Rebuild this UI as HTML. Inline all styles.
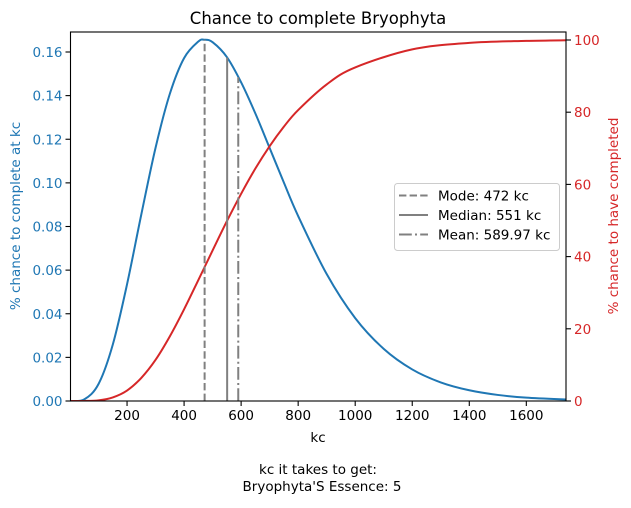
<!DOCTYPE html>
<html><head><meta charset="utf-8">
<style>
body{margin:0;background:#fff;}
svg{font-family:"DejaVu Sans","Liberation Sans",sans-serif;}
</style></head>
<body>
<svg id="chart" width="631" height="503" xmlns="http://www.w3.org/2000/svg"></svg>
<script>
const xs = [0,50,100,150,200,250,300,350,400,450,472,500,550,600,650,700,750,800,900,1000,1100,1200,1300,1400,1500,1600,1750];
const pdfVals = [0,0.000745,0.0078,0.02586,0.0535,0.0855,0.1161,0.1408,0.1572,0.1648,0.1656,0.1645,0.1577,0.1461,0.1318,0.116,0.1001,0.0848,0.0582,0.038,0.0239,0.01447,0.00853,0.00492,0.00278,0.00154,0.00062];
const cdfXs = [0,50,100,150,200,250,300,350,400,450,500,550,600,650,700,750,800,900,1000,1200,1400,1600,1750];
const cdfVals = [0,0.01,0.18,1.0,2.9,6.4,11.4,17.9,25.4,33.5,41.7,49.8,57.4,64.4,70.6,76.0,80.6,87.7,92.4,97.4,99.2,99.75,99.93];
const xTicks = [200,400,600,800,1000,1200,1400,1600];
const yLeftTicks = [0,0.02,0.04,0.06,0.08,0.10,0.12,0.14,0.16];
const yRightTicks = [0,20,40,60,80,100];
const markers = [472,551,589.97];

const L=70.5,R=566,T=32,B=401;
const X=v=>70+v*0.2852;
const YL=v=>401-v*(349/0.16);
const YR=v=>401-v*3.61;
const svg=document.getElementById('chart');
const NS='http://www.w3.org/2000/svg';
function el(tag,attrs,parent){const e=document.createElementNS(NS,tag);for(const k in attrs)e.setAttribute(k,attrs[k]);(parent||svg).appendChild(e);return e;}
function txt(s,attrs){const t=el('text',attrs);t.textContent=s;return t;}
function smooth(pts){let d='M'+pts[0][0].toFixed(2)+','+pts[0][1].toFixed(2);
for(let i=0;i<pts.length-1;i++){const p0=pts[i-1]||pts[i],p1=pts[i],p2=pts[i+1],p3=pts[i+2]||p2;
const c1=[p1[0]+(p2[0]-p0[0])/6,p1[1]+(p2[1]-p0[1])/6],c2=[p2[0]-(p3[0]-p1[0])/6,p2[1]-(p3[1]-p1[1])/6];
d+='C'+c1.map(v=>v.toFixed(2)).join(',')+' '+c2.map(v=>v.toFixed(2)).join(',')+' '+p2[0].toFixed(2)+','+p2[1].toFixed(2);}
return d;}

const defs=el('defs',{});const cp=el('clipPath',{id:'c'},defs);el('rect',{x:L,y:T,width:R-L,height:B-T},cp);
const g=el('g',{'clip-path':'url(#c)'});

let p=el('path',{d:smooth(xs.map((x,i)=>[X(x),YL(pdfVals[i])])),fill:'none',stroke:'#1f77b4','stroke-width':2,'stroke-linejoin':'round'},g);


p=el('path',{d:smooth(cdfXs.map((x,i)=>[X(x),YR(cdfVals[i])])),fill:'none',stroke:'#d62728','stroke-width':2,'stroke-linejoin':'round'},g);



function pdfAt(x){for(let i=1;i<xs.length;i++){if(x<=xs[i]){const f=(x-xs[i-1])/(xs[i]-xs[i-1]);return pdfVals[i-1]+f*(pdfVals[i]-pdfVals[i-1]);}}return 0;}
const dashes=['7.4,3.2','none','12.8,3.2,2,3.2'];
const mnames=['mode-line','median-line','mean-line'];
markers.forEach((m,i)=>{const l=el('line',{x1:X(m),x2:X(m),y1:B,y2:YL(pdfAt(m)),stroke:'#808080','stroke-width':2,'stroke-dasharray':dashes[i]},g);

});

el('rect',{x:L,y:T,width:R-L,height:B-T,fill:'none',stroke:'#000','stroke-width':1.1});

xTicks.forEach(v=>{el('line',{x1:X(v),x2:X(v),y1:B,y2:B+5,stroke:'#000','stroke-width':1.1});
const t=txt(v,{x:X(v),y:B+19,'font-size':13.5,'text-anchor':'middle'});});
yLeftTicks.forEach(v=>{el('line',{x1:L,x2:L-5,y1:YL(v),y2:YL(v),stroke:'#000','stroke-width':1.1});
const t=txt(v.toFixed(2),{x:L-8,y:YL(v)+5,'font-size':13.5,'text-anchor':'end',fill:'#1f77b4'});});
yRightTicks.forEach(v=>{el('line',{x1:R,x2:R+5,y1:YR(v),y2:YR(v),stroke:'#000','stroke-width':1.1});
const t=txt(v,{x:R+8,y:YR(v)+5,'font-size':13.5,fill:'#d62728'});});

let t=txt('Chance to complete Bryophyta',{x:318,y:24,'font-size':16.5,'text-anchor':'middle'});
t=txt('kc',{x:318,y:442,'font-size':13.5,'text-anchor':'middle'});
t=txt('kc it takes to get:',{x:318,y:474,'font-size':13.5,'text-anchor':'middle'});
t=txt("Bryophyta'S Essence: 5",{x:322,y:491,'font-size':13.5,'text-anchor':'middle'});
t=txt('% chance to complete at kc',{x:0,y:0,'font-size':13.5,'text-anchor':'middle',fill:'#1f77b4',transform:'translate(20,216) rotate(-90)'});
t=txt('% chance to have completed',{x:0,y:0,'font-size':13.5,'text-anchor':'middle',fill:'#d62728',transform:'translate(618,216) rotate(-90)'});

const lg=el('g',{});
el('rect',{x:394.5,y:183.5,width:165,height:67,rx:3,fill:'#fff','fill-opacity':0.8,stroke:'#ccc','stroke-width':1},lg);
const labels=['Mode: 472 kc','Median: 551 kc','Mean: 589.97 kc'];
labels.forEach((s,i)=>{const y=195.5+i*19.5;
el('line',{x1:399,x2:428,y1:y,y2:y,stroke:'#808080','stroke-width':2,'stroke-dasharray':dashes[i]},lg);
const tt=el('text',{x:438,y:y+5,'font-size':13.5},lg);tt.textContent=s;

});
</script>
</body></html>
